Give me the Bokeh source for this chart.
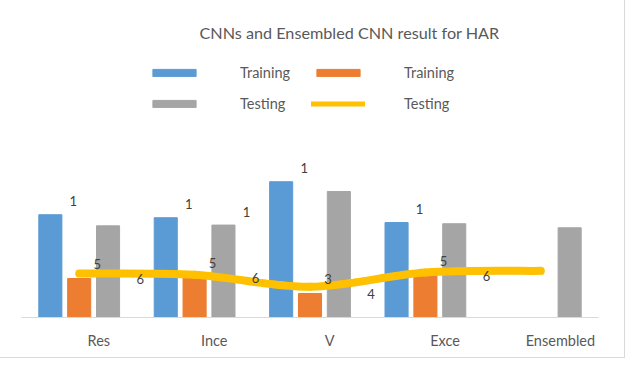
import numpy as np
from bokeh.plotting import figure
from bokeh.models import Legend, LegendItem, Label, FixedTicker
from bokeh.core.properties import value
from bokeh.embed import file_html
from bokeh.resources import INLINE

# ---- data ----
categories = ["Res", "Ince", "V", "Exce", "Ensembled"]
train_blue = [68.5, 66.5, 90.5, 63.3, 0]
train_orange = [26.0, 26.8, 16.0, 28.0, 0]
test_gray = [61.1, 61.6, 84.0, 62.5, 59.8]
test_line = [29.3, 28.5, 20.5, 30.0, 31.1]
labels_blue = ["1", "1", "1", "1", ""]
labels_orange_a = ["5", "5", "3", "5", ""]
labels_orange_b = ["6", "6", "4", "6", ""]
labels_gray = ["", "1", "", "", ""]

FONT = "Lato"
TXT = "#595959"
BLUE, ORANGE, GRAY, YELLOW = "#5B9BD5", "#ED7D31", "#A5A5A5", "#FFC000"

n = len(categories)
ticks = np.arange(n)
xc = ticks - 0.17          # group centre
bw = 0.2
off = 0.25

p = figure(width=625, height=358, output_backend="svg", toolbar_location=None,
           x_range=(-0.5 - 0.17, n - 0.5 - 0.17), y_range=(0, 211.3),
           min_border_left=21, min_border_right=27, min_border_top=0, min_border_bottom=41)
p.outline_line_color = None
p.xgrid.visible = False
p.ygrid.visible = False
p.yaxis.visible = False
p.background_fill_color = "white"
p.border_fill_color = "white"
p.styles = {"border-right": "1px solid #d9d9d9", "border-bottom": "1px solid #d9d9d9"}

r_blue = p.vbar(x=xc - off, top=train_blue, width=bw, color=BLUE)
r_orange = p.vbar(x=xc, top=train_orange, width=bw, color=ORANGE)
r_gray = p.vbar(x=xc + off, top=test_gray, width=bw, color=GRAY)

# thin polyline (legend proxy, hidden under the smoothed line)
r_leg_line = p.line(x=xc, y=test_line, line_color=YELLOW, line_width=5, line_cap="round")

# smoothed line (Catmull-Rom -> cubic Bezier)
lx = np.array(xc, dtype=float)
ly = np.array(test_line, dtype=float)
px = np.concatenate([[lx[0]], lx, [lx[-1]]])
py = np.concatenate([[ly[0]], ly, [ly[-1]]])
x0, y0 = px[1:-2], py[1:-2]
x1, y1 = px[2:-1], py[2:-1]
cx0 = x0 + (px[2:-1] - px[0:-3]) / 6
cy0 = y0 + (py[2:-1] - py[0:-3]) / 6
cx1 = x1 - (px[3:] - px[1:-2]) / 6
cy1 = y1 - (py[3:] - py[1:-2]) / 6
p.bezier(x0=x0, y0=y0, x1=x1, y1=y1, cx0=cx0, cy0=cy0, cx1=cx1, cy1=cy1,
         line_color=YELLOW, line_width=8, line_cap="round")

# data labels
lab_kw = dict(text_font=value(FONT), text_font_size="13px", text_color="#404040",
              text_align="center", text_baseline="middle")
p.text(x=xc - off, y=train_blue, text=labels_blue, x_offset=23, y_offset=-14, **lab_kw)
p.text(x=xc + off, y=test_gray, text=labels_gray, x_offset=23, y_offset=-13, **lab_kw)
p.text(x=xc, y=train_orange, text=labels_orange_a, x_offset=18, y_offset=-14, **lab_kw)
p.text(x=xc, y=train_orange, text=labels_orange_b, x_offset=61, y_offset=1, **lab_kw)

# axis
ax = p.xaxis[0]
ax.ticker = FixedTicker(ticks=list(ticks))
ax.major_label_overrides = {int(i): c for i, c in zip(ticks, categories)}
ax.axis_line_color = "#d9d9d9"
ax.major_tick_line_color = None
ax.minor_tick_line_color = None
ax.major_tick_out = 0
ax.major_tick_in = 0
ax.major_label_standoff = 14
ax.major_label_text_font = FONT
ax.major_label_text_font_size = "14.5px"
ax.major_label_text_color = TXT

# title
p.add_layout(Label(x=178, y=285, x_units="screen", y_units="screen",
                   text="CNNs and Ensembled CNN result for HAR",
                   text_font=FONT, text_font_size="16.2px", text_color=TXT,
                   text_baseline="middle"))

legend = Legend(items=[
    LegendItem(label="Training", renderers=[r_blue]),
    LegendItem(label="Testing", renderers=[r_gray]),
    LegendItem(label="Training", renderers=[r_orange]),
    LegendItem(label="Testing", renderers=[r_leg_line]),
], ncols=2, location=(126, 204), glyph_width=54, glyph_height=9,
    label_standoff=39, label_width=60, label_height=20, spacing=11,
    padding=0, margin=0, border_line_color=None, background_fill_alpha=0,
    label_text_font=FONT, label_text_font_size="14.5px", label_text_color=TXT)
p.add_layout(legend, "center")

open("out.html", "w").write(file_html(p, INLINE))
